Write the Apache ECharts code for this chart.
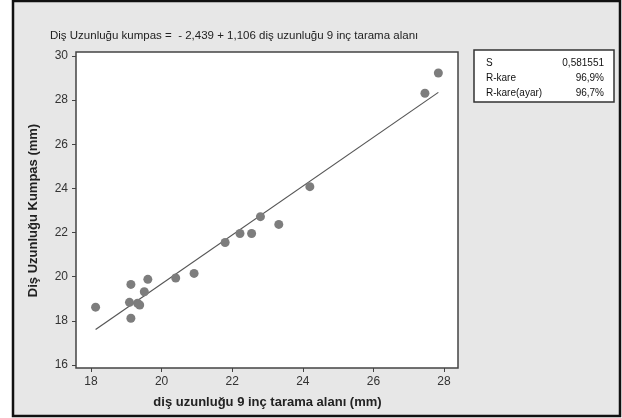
<!DOCTYPE html>
<html>
<head>
<meta charset="utf-8">
<script src="https://cdn.jsdelivr.net/npm/echarts@6/dist/echarts.min.js"></script>
<style>
  html, body { margin: 0; padding: 0; background: #fff; }
  #main { width: 622px; height: 418px; }
</style>
</head>
<body>
<div id="main"></div>
<script>
// ==============================
// Data
// ==============================

const taramaAlani = [
    18.13, 19.13, 19.61, 19.51, 19.09, 19.32, 19.38, 19.13, 20.40,
    20.92, 21.80, 22.22, 22.55, 22.80, 23.32, 24.20, 27.46, 27.84
];

const kumpas = [
    18.62, 19.65, 19.88, 19.32, 18.84, 18.80, 18.72, 18.12, 19.94,
    20.15, 21.55, 21.96, 21.96, 22.72, 22.37, 24.08, 28.31, 29.23
];

// regresyon katsayilari
const intercept = -2.439;
const slope = 1.106;

const statLabels = ['S', 'R-kare', 'R-kare(ayar)'];
const statValues = ['0,581551', '96,9%', '96,7%'];

const titleText = 'Diş Uzunluğu kumpas =  - 2,439 + 1,106 diş uzunluğu 9 inç tarama alanı';


// ==============================
// Build series data
// ==============================

const points = taramaAlani.map((x, i) => [x, kumpas[i]]);

const xMin = Math.min(...taramaAlani);
const xMax = Math.max(...taramaAlani);

const fitLine = [
    [xMin, intercept + slope * xMin],
    [xMax, intercept + slope * xMax]
];


// ==============================
// ECharts
// ==============================

var myChart = echarts.init(
    document.getElementById('main')
);

const font = 'Liberation Sans, Arial, sans-serif';

const statTexts = [];
statLabels.forEach((lab, i) => {
    statTexts.push({
        type: 'text', z: 5,
        style: { x: 486, y: 63 + i * 15, text: lab, fill: '#111',
                 font: '10px ' + font, textVerticalAlign: 'middle' }
    });
    statTexts.push({
        type: 'text', z: 5,
        style: { x: 604, y: 63 + i * 15, text: statValues[i], fill: '#111',
                 font: '10px ' + font, textAlign: 'right', textVerticalAlign: 'middle' }
    });
});

myChart.setOption({

    backgroundColor: '#ffffff',

    animation: false,

    title: {
        text: titleText,
        left: 45,
        top: 25,
        textStyle: {
            fontFamily: font,
            fontSize: 11.5,
            fontWeight: 'normal',
            color: '#222'
        }
    },

    graphic: [
        {
            type: 'rect', z: -10,
            shape: { x: 13, y: 1, width: 607, height: 415 },
            style: { fill: '#e7e7e7', stroke: '#111', lineWidth: 2.5 }
        },
        {
            type: 'rect', z: -5,
            shape: { x: 76, y: 52, width: 382, height: 316 },
            style: { fill: '#ffffff', stroke: '#444', lineWidth: 1.5 }
        },
        {
            type: 'rect', z: 4,
            shape: { x: 474, y: 50, width: 140, height: 52 },
            style: { fill: '#ffffff', stroke: '#333', lineWidth: 1.5 }
        }
    ].concat(statTexts),

    grid: {
        left: 91,
        right: 178,
        top: 56,
        bottom: 53
    },

    xAxis: {
        type: 'value',
        min: 18,
        max: 28,
        interval: 2,
        offset: 3,
        name: 'diş uzunluğu 9 inç tarama alanı (mm)',
        nameLocation: 'middle',
        nameGap: 28,
        nameTextStyle: {
            fontFamily: font, fontSize: 13, fontWeight: 'bold', color: '#222'
        },
        axisLine: { show: false },
        axisTick: { show: true, length: 4, lineStyle: { color: '#444' } },
        axisLabel: { margin: 8, fontFamily: font, fontSize: 12, color: '#333' },
        splitLine: { show: false }
    },

    yAxis: {
        type: 'value',
        min: 16,
        max: 30,
        interval: 2,
        offset: 15,
        name: 'Diş Uzunluğu Kumpas (mm)',
        nameLocation: 'middle',
        nameGap: 36,
        nameTextStyle: {
            fontFamily: font, fontSize: 13, fontWeight: 'bold', color: '#222'
        },
        axisLine: { show: false },
        axisTick: { show: true, length: 4, lineStyle: { color: '#444' } },
        axisLabel: { margin: 8, fontFamily: font, fontSize: 12, color: '#333' },
        splitLine: { show: false }
    },

    series: [
        {
            type: 'line',
            data: fitLine,
            symbol: 'none',
            lineStyle: { color: '#555', width: 1.2 },
            z: 2
        },
        {
            type: 'scatter',
            data: points,
            symbol: 'circle',
            symbolSize: 9,
            itemStyle: { color: '#7d7d7d', opacity: 1 },
            z: 3
        }
    ]

});
</script>
</body>
</html>
